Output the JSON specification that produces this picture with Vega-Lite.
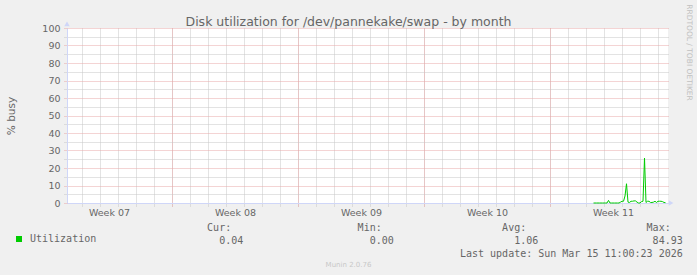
{
  "$schema": "https://vega.github.io/schema/vega-lite/v6.json",
  "width": 601,
  "height": 175,
  "autosize": {"type": "none"},
  "padding": {"left": 67, "top": 28, "right": 29, "bottom": 72},
  "background": "#f0f0f0",
  "config": {
    "font": "DejaVu Sans",
    "view": {"fill": "white", "stroke": null}
  },
  "title": {
    "text": "Disk utilization for /dev/pannekake/swap - by month",
    "frame": "group",
    "anchor": "middle",
    "dx": -19,
    "offset": -34.5,
    "baseline": "alphabetic",
    "font": "DejaVu Sans",
    "fontSize": 12.5,
    "fontWeight": "normal",
    "color": "#666666"
  },
  "data": {
    "values": [
      {"time": "2026-03-11T10:00:00Z", "busy": 0},
      {"time": "2026-03-11T12:00:00Z", "busy": 0},
      {"time": "2026-03-11T14:00:00Z", "busy": 0},
      {"time": "2026-03-11T16:00:00Z", "busy": 0},
      {"time": "2026-03-11T18:00:00Z", "busy": 0},
      {"time": "2026-03-11T20:00:00Z", "busy": 0},
      {"time": "2026-03-11T22:00:00Z", "busy": 0},
      {"time": "2026-03-12T00:00:00Z", "busy": 0},
      {"time": "2026-03-12T02:00:00Z", "busy": 0},
      {"time": "2026-03-12T04:00:00Z", "busy": 0},
      {"time": "2026-03-12T06:00:00Z", "busy": 1.5},
      {"time": "2026-03-12T08:00:00Z", "busy": 0},
      {"time": "2026-03-12T10:00:00Z", "busy": 0},
      {"time": "2026-03-12T12:00:00Z", "busy": 0},
      {"time": "2026-03-12T14:00:00Z", "busy": 0},
      {"time": "2026-03-12T16:00:00Z", "busy": 0},
      {"time": "2026-03-12T18:00:00Z", "busy": 0},
      {"time": "2026-03-12T20:00:00Z", "busy": 0},
      {"time": "2026-03-12T22:00:00Z", "busy": 0.5},
      {"time": "2026-03-13T00:00:00Z", "busy": 1},
      {"time": "2026-03-13T02:00:00Z", "busy": 1},
      {"time": "2026-03-13T04:00:00Z", "busy": 4},
      {"time": "2026-03-13T06:00:00Z", "busy": 11},
      {"time": "2026-03-13T08:00:00Z", "busy": 0.5},
      {"time": "2026-03-13T10:00:00Z", "busy": 0.3},
      {"time": "2026-03-13T12:00:00Z", "busy": 1},
      {"time": "2026-03-13T14:00:00Z", "busy": 1},
      {"time": "2026-03-13T16:00:00Z", "busy": 1.2},
      {"time": "2026-03-13T18:00:00Z", "busy": 1.2},
      {"time": "2026-03-13T20:00:00Z", "busy": 0.5},
      {"time": "2026-03-13T22:00:00Z", "busy": 0},
      {"time": "2026-03-14T00:00:00Z", "busy": 0},
      {"time": "2026-03-14T02:00:00Z", "busy": 0.8},
      {"time": "2026-03-14T04:00:00Z", "busy": 1},
      {"time": "2026-03-14T06:00:00Z", "busy": 25.7},
      {"time": "2026-03-14T08:00:00Z", "busy": 0.3},
      {"time": "2026-03-14T10:00:00Z", "busy": 1},
      {"time": "2026-03-14T12:00:00Z", "busy": 1},
      {"time": "2026-03-14T14:00:00Z", "busy": 0.3},
      {"time": "2026-03-14T16:00:00Z", "busy": 0.3},
      {"time": "2026-03-14T18:00:00Z", "busy": 0.5},
      {"time": "2026-03-14T20:00:00Z", "busy": 1},
      {"time": "2026-03-14T22:00:00Z", "busy": 0.3},
      {"time": "2026-03-15T00:00:00Z", "busy": 1},
      {"time": "2026-03-15T02:00:00Z", "busy": 1},
      {"time": "2026-03-15T04:00:00Z", "busy": 1},
      {"time": "2026-03-15T06:00:00Z", "busy": 0.8},
      {"time": "2026-03-15T08:00:00Z", "busy": 0.3},
      {"time": "2026-03-15T10:00:00Z", "busy": 0.2}
    ]
  },
  "resolve": {"axis": {"x": "independent", "y": "independent"}},
  "layer": [
    {
      "mark": {"type": "line", "opacity": 0},
      "encoding": {
        "x": {
          "field": "time", "type": "temporal",
          "scale": {"type": "utc", "domain": [{"year": 2026, "month": 2, "date": 10, "hours": 4, "utc": true}, {"year": 2026, "month": 3, "date": 15, "hours": 13, "minutes": 20, "utc": true}]},
          "axis": {
            "orient": "bottom",
            "values": [
              {"year": 2026, "month": 2, "date": 11, "utc": true},
              {"year": 2026, "month": 2, "date": 12, "utc": true},
              {"year": 2026, "month": 2, "date": 13, "utc": true},
              {"year": 2026, "month": 2, "date": 14, "utc": true},
              {"year": 2026, "month": 2, "date": 15, "utc": true},
              {"year": 2026, "month": 2, "date": 16, "utc": true},
              {"year": 2026, "month": 2, "date": 17, "utc": true},
              {"year": 2026, "month": 2, "date": 18, "utc": true},
              {"year": 2026, "month": 2, "date": 19, "utc": true},
              {"year": 2026, "month": 2, "date": 20, "utc": true},
              {"year": 2026, "month": 2, "date": 21, "utc": true},
              {"year": 2026, "month": 2, "date": 22, "utc": true},
              {"year": 2026, "month": 2, "date": 23, "utc": true},
              {"year": 2026, "month": 2, "date": 24, "utc": true},
              {"year": 2026, "month": 2, "date": 25, "utc": true},
              {"year": 2026, "month": 2, "date": 26, "utc": true},
              {"year": 2026, "month": 2, "date": 27, "utc": true},
              {"year": 2026, "month": 2, "date": 28, "utc": true},
              {"year": 2026, "month": 3, "date": 1, "utc": true},
              {"year": 2026, "month": 3, "date": 2, "utc": true},
              {"year": 2026, "month": 3, "date": 3, "utc": true},
              {"year": 2026, "month": 3, "date": 4, "utc": true},
              {"year": 2026, "month": 3, "date": 5, "utc": true},
              {"year": 2026, "month": 3, "date": 6, "utc": true},
              {"year": 2026, "month": 3, "date": 7, "utc": true},
              {"year": 2026, "month": 3, "date": 8, "utc": true},
              {"year": 2026, "month": 3, "date": 9, "utc": true},
              {"year": 2026, "month": 3, "date": 10, "utc": true},
              {"year": 2026, "month": 3, "date": 11, "utc": true},
              {"year": 2026, "month": 3, "date": 12, "utc": true},
              {"year": 2026, "month": 3, "date": 13, "utc": true},
              {"year": 2026, "month": 3, "date": 14, "utc": true},
              {"year": 2026, "month": 3, "date": 15, "utc": true}
            ],
            "grid": true, "gridColor": "#c6c6c6", "gridDash": [1, 1], "gridWidth": 1,
            "ticks": true, "tickColor": "#c6c6c6", "tickSize": 3, "tickDash": [1, 1],
            "labels": false, "domain": false,
            "title": "Munin 2.0.76",
            "titleX": 281, "titleY": 61, "titleAlign": "center", "titleBaseline": "middle",
            "titleFont": "DejaVu Sans", "titleFontSize": 7, "titleFontWeight": "normal", "titleColor": "#c8c8c8"
          }
        },
        "y": {
          "field": "busy", "type": "quantitative",
          "scale": {"domain": [0, 100], "nice": false, "zero": true},
          "axis": {
            "orient": "left",
            "values": [5, 15, 25, 35, 45, 55, 65, 75, 85, 95],
            "grid": true, "gridColor": "#c6c6c6", "gridDash": [1, 1],
            "ticks": true, "tickColor": "#c6c6c6", "tickSize": 3, "tickDash": [1, 1],
            "labels": false, "domain": false, "title": null
          }
        }
      }
    },
    {
      "mark": {"type": "line", "opacity": 0},
      "encoding": {
        "x": {
          "field": "time", "type": "temporal",
          "scale": {"type": "utc", "domain": [{"year": 2026, "month": 2, "date": 10, "hours": 4, "utc": true}, {"year": 2026, "month": 3, "date": 15, "hours": 13, "minutes": 20, "utc": true}]},
          "axis": {
            "orient": "bottom",
            "values": [
              {"year": 2026, "month": 2, "date": 16, "utc": true},
              {"year": 2026, "month": 2, "date": 23, "utc": true},
              {"year": 2026, "month": 3, "date": 2, "utc": true},
              {"year": 2026, "month": 3, "date": 9, "utc": true}
            ],
            "grid": true, "gridColor": "#e8a8a8", "gridDash": [1, 1],
            "ticks": true, "tickColor": "#e8a8a8", "tickSize": 3, "tickDash": [1, 1],
            "labels": false, "domain": false, "title": null
          }
        },
        "y": {
          "field": "busy", "type": "quantitative",
          "scale": {"domain": [0, 100], "nice": false, "zero": true},
          "axis": {
            "orient": "left",
            "values": [0, 10, 20, 30, 40, 50, 60, 70, 80, 90, 100],
            "grid": true, "gridColor": "#e8a8a8", "gridDash": [1, 1],
            "ticks": true, "tickColor": "#e8a8a8", "tickSize": 3, "tickDash": [1, 1],
            "labels": true, "labelFont": "DejaVu Sans", "labelFontSize": 9.5, "labelColor": "#666666", "labelPadding": 4,
            "domain": true, "domainColor": "#CFD6F8", "domainWidth": 1,
            "title": "% busy",
            "titleX": -56, "titleY": 87.5, "titleAngle": -90, "titleAlign": "center", "titleBaseline": "middle",
            "titleFont": "DejaVu Sans", "titleFontSize": 10.5, "titleFontWeight": "normal", "titleColor": "#666666"
          }
        }
      }
    },
    {
      "mark": {"type": "line", "opacity": 0},
      "encoding": {
        "x": {
          "field": "time", "type": "temporal",
          "scale": {"type": "utc", "domain": [{"year": 2026, "month": 2, "date": 10, "hours": 4, "utc": true}, {"year": 2026, "month": 3, "date": 15, "hours": 13, "minutes": 20, "utc": true}]},
          "axis": {
            "orient": "bottom",
            "values": [
              {"year": 2026, "month": 2, "date": 12, "hours": 12, "utc": true},
              {"year": 2026, "month": 2, "date": 19, "hours": 12, "utc": true},
              {"year": 2026, "month": 2, "date": 26, "hours": 12, "utc": true},
              {"year": 2026, "month": 3, "date": 5, "hours": 12, "utc": true},
              {"year": 2026, "month": 3, "date": 12, "hours": 12, "utc": true}
            ],
            "labelExpr": "'Week ' + utcFormat(datum.value, '%V')",
            "grid": false, "ticks": false, "tickSize": 0,
            "labels": true, "labelFont": "DejaVu Sans", "labelFontSize": 9.5, "labelColor": "#666666", "labelPadding": 4.5,
            "labelFlush": false, "labelOverlap": false,
            "domain": true, "domainColor": "#CFD6F8", "domainWidth": 1,
            "zindex": 0,
            "title": [
              "Cur:\u00a0\u00a0\u00a0\u00a0\u00a0\u00a0\u00a0\u00a0\u00a0\u00a0\u00a0\u00a0\u00a0\u00a0\u00a0\u00a0\u00a0\u00a0\u00a0\u00a0\u00a0Min:\u00a0\u00a0\u00a0\u00a0\u00a0\u00a0\u00a0\u00a0\u00a0\u00a0\u00a0\u00a0\u00a0\u00a0\u00a0\u00a0\u00a0\u00a0\u00a0\u00a0Avg:\u00a0\u00a0\u00a0\u00a0\u00a0\u00a0\u00a0\u00a0\u00a0\u00a0\u00a0\u00a0\u00a0\u00a0\u00a0\u00a0\u00a0\u00a0\u00a0\u00a0Max:",
              "\u200b\u00a0\u00a00.04\u00a0\u00a0\u00a0\u00a0\u00a0\u00a0\u00a0\u00a0\u00a0\u00a0\u00a0\u00a0\u00a0\u00a0\u00a0\u00a0\u00a0\u00a0\u00a0\u00a0\u00a00.00\u00a0\u00a0\u00a0\u00a0\u00a0\u00a0\u00a0\u00a0\u00a0\u00a0\u00a0\u00a0\u00a0\u00a0\u00a0\u00a0\u00a0\u00a0\u00a0\u00a01.06\u00a0\u00a0\u00a0\u00a0\u00a0\u00a0\u00a0\u00a0\u00a0\u00a0\u00a0\u00a0\u00a0\u00a0\u00a0\u00a0\u00a0\u00a0\u00a084.93",
              "\u200b\u00a0\u00a0\u00a0\u00a0\u00a0\u00a0\u00a0\u00a0\u00a0\u00a0\u00a0\u00a0\u00a0\u00a0\u00a0\u00a0\u00a0\u00a0\u00a0\u00a0\u00a0\u00a0\u00a0\u00a0\u00a0\u00a0\u00a0\u00a0\u00a0\u00a0\u00a0\u00a0\u00a0\u00a0\u00a0\u00a0\u00a0\u00a0\u00a0\u00a0\u00a0\u00a0Last update: Sun Mar 15 11:00:23 2026"
            ],
            "titleX": 139.6, "titleY": 27.7, "titleAlign": "left", "titleBaseline": "alphabetic", "titleLineHeight": 13,
            "titleFont": "DejaVu Sans Mono", "titleFontSize": 10, "titleFontWeight": "normal", "titleColor": "#666666"
          }
        },
        "y": {
          "field": "busy", "type": "quantitative",
          "scale": {"domain": [0, 100], "nice": false, "zero": true},
          "axis": {
            "orient": "right",
            "grid": false, "ticks": false, "labels": false, "domain": false,
            "title": "RRDTOOL / TOBI OETIKER",
            "titleX": 20, "titleY": 24, "titleAngle": 90, "titleAlign": "center", "titleBaseline": "middle",
            "titleFont": "DejaVu Sans", "titleFontSize": 7.5, "titleFontWeight": "normal", "titleColor": "#c0c0c0"
          }
        }
      }
    },
    {
      "mark": {"type": "line", "strokeWidth": 1, "interpolate": "linear"},
      "encoding": {
        "x": {"field": "time", "type": "temporal", "axis": null},
        "y": {"field": "busy", "type": "quantitative", "axis": null},
        "color": {
          "datum": "Utilization",
          "scale": {"range": ["#00cc00"]},
          "legend": {
            "orient": "none", "legendX": -53, "legendY": 206, "title": null, "padding": 0,
            "symbolType": "square", "symbolSize": 36, "symbolFillColor": "#00cc00", "symbolStrokeColor": "#00cc00", "symbolStrokeWidth": 0, "symbolOpacity": 1,
            "labelFont": "DejaVu Sans Mono", "labelFontSize": 10, "labelColor": "#666666", "labelOffset": 6
          }
        }
      }
    },
    {
      "data": {"values": [{}]},
      "mark": {"type": "point", "shape": "triangle-up", "size": 30, "filled": true, "color": "#CFD6F8", "opacity": 1},
      "encoding": {
        "x": {"datum": {"year": 2026, "month": 2, "date": 10, "hours": 4, "utc": true}, "type": "temporal", "axis": null},
        "y": {"datum": 102.3, "type": "quantitative", "axis": null}
      }
    },
    {
      "data": {"values": [{}]},
      "mark": {"type": "point", "shape": "triangle-right", "size": 30, "filled": true, "color": "#CFD6F8", "opacity": 1},
      "encoding": {
        "x": {"datum": {"year": 2026, "month": 3, "date": 15, "hours": 17, "minutes": 20, "utc": true}, "type": "temporal", "axis": null},
        "y": {"datum": 0, "type": "quantitative", "axis": null}
      }
    }
  ]
}
